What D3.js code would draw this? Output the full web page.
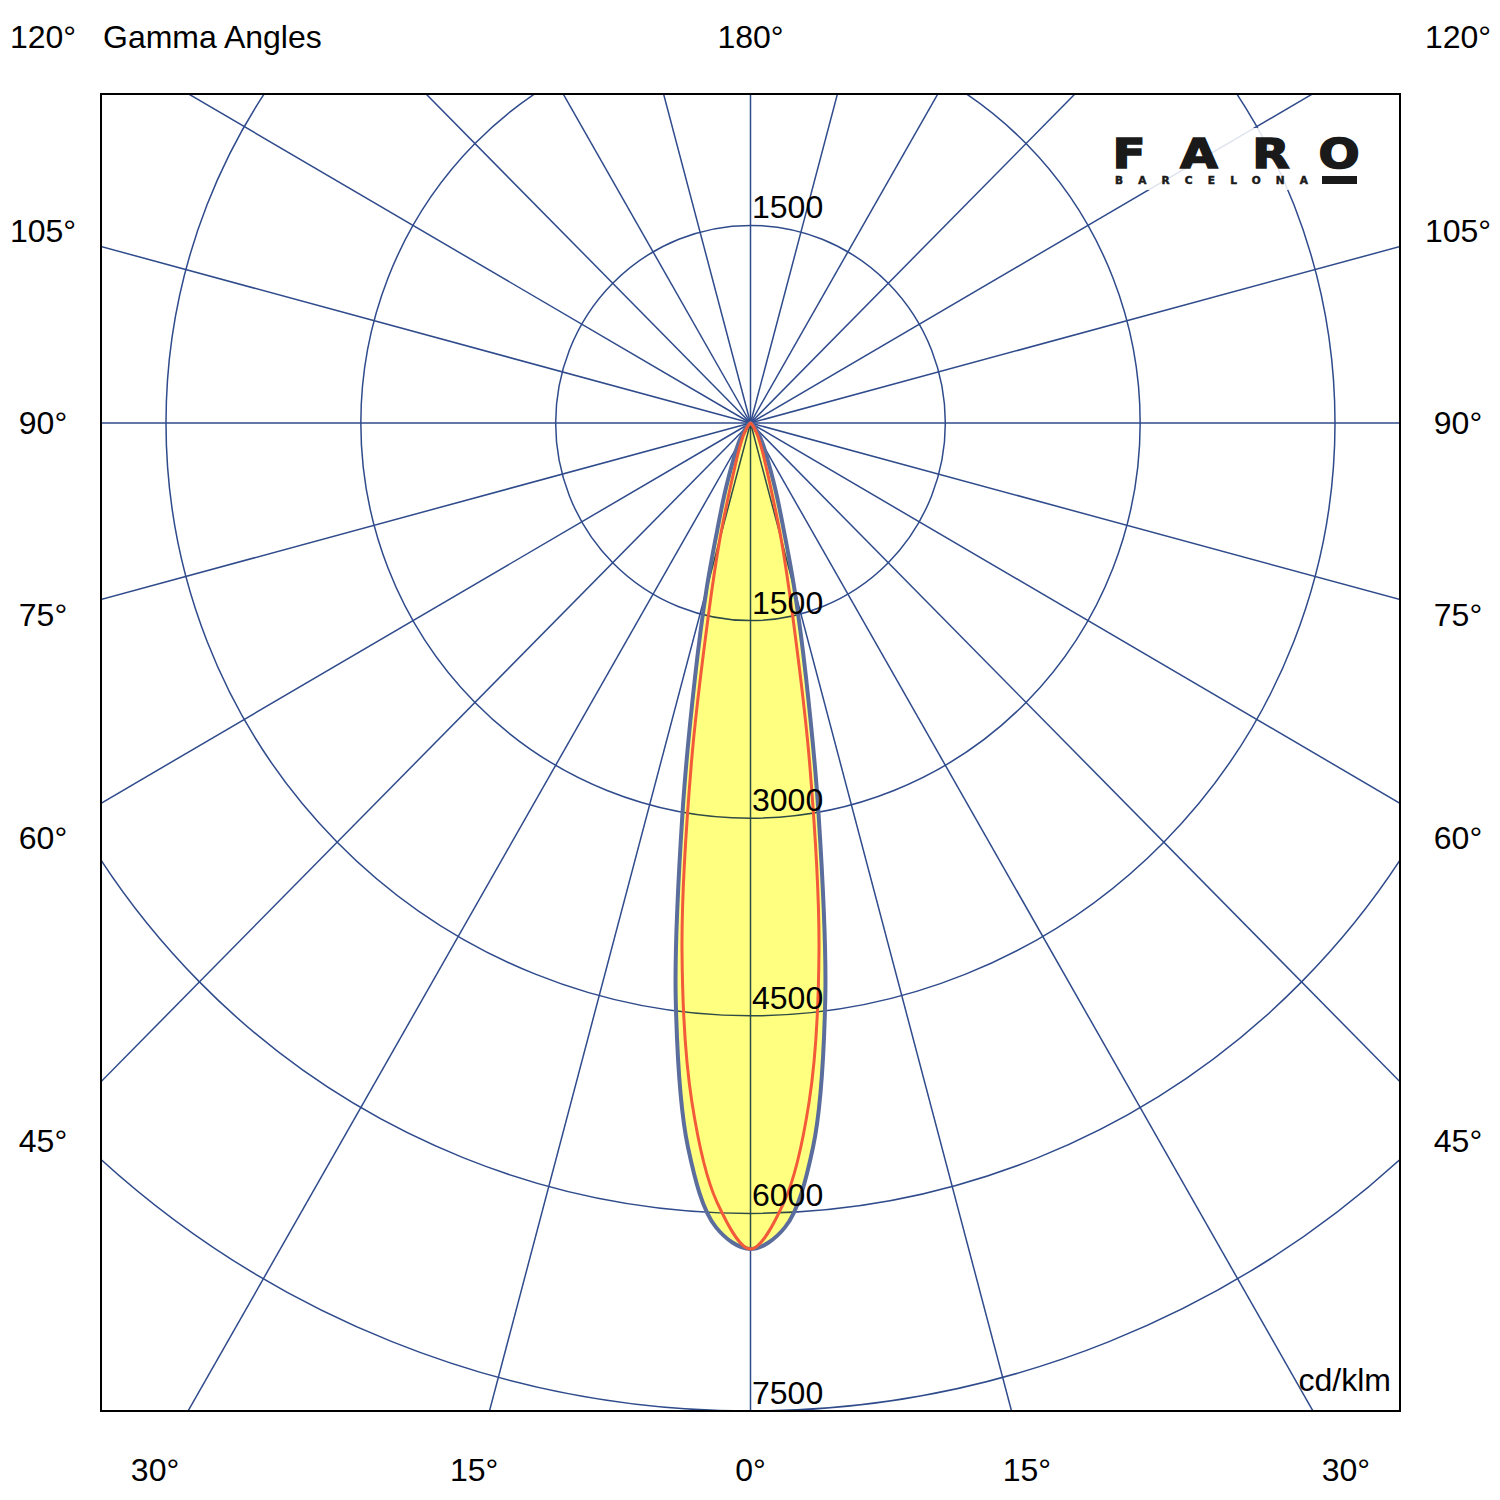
<!DOCTYPE html>
<html><head><meta charset="utf-8">
<script src="https://cdn.jsdelivr.net/npm/d3@7"></script>
<style>html,body{margin:0;padding:0;background:#fff}svg{display:block}</style>
</head><body>
<script>
// ---- data ----
const gammaDeg = [0,2.5,5,7.5,10,12.5,15,17.5,20,22.5,25,30,35,40,45,50,60,70,80,90];
const planeC0C180 = [6270,6110,5520,4410,3020,1970,1310,850,600,430,320,200,120,70,40,20,8,3,1,0];
const planeC90C270 = [6270,5920,5175,4040,2620,1500,910,525,345,250,185,110,60,30,15,8,3,1,0,0];
const ringValues = [1500,3000,4500,6000,7500];
const radialAngles = [0,15,30,45,60,75,90,105,120,135,150,165,180,195,210,225,240,255,270,285,300,315,330,345];
const sideLabelAngles = [45,60,75,90,105,120];
const bottomLabelAngles = [-30,-15,0,15,30];
const logoLetters = ["F","A","R","O"];
const logoSub = "BARCELONA";
const unitLabel = "cd/klm";
const titleLabel = "Gamma Angles";

// ---- layout ----
const W = 1500, H = 1500;
const box = {x0:101, y0:94, x1:1400, y1:1411};
const cx = 750.5, cy = 423;
const ry = d3.scaleLinear().domain([0,7500]).range([0,988]);
const squish = 0.986;
const rx = d3.scaleLinear().domain([0,7500]).range([0,988*squish]);
const gridColor = "#2f4b8c";
const font = "'Liberation Sans', Arial, sans-serif";

const svg = d3.select("body").append("svg").attr("width",W).attr("height",H);
svg.append("defs").append("clipPath").attr("id","clipbox")
  .append("rect").attr("x",box.x0).attr("y",box.y0)
  .attr("width",box.x1-box.x0).attr("height",box.y1-box.y0);

const clipG = svg.append("g").attr("clip-path","url(#clipbox)")
  .append("g").attr("transform",`translate(${cx},${cy})`);

const rad = d => d*Math.PI/180;
// gamma measured from nadir (down); side +1 right, -1 left
function pts(vals, side){
  return gammaDeg.map((gd,i)=>[side*rx(vals[i])*Math.sin(rad(gd)), ry(vals[i])*Math.cos(rad(gd))]);
}
function loop(vals){
  return pts(vals,-1).reverse().concat(pts(vals,1).slice(1));
}
const curveLine = d3.line().curve(d3.curveCatmullRom.alpha(0.5));

// fill of C0-C180
clipG.append("path").attr("d",curveLine(loop(planeC0C180))+"Z")
  .attr("fill","#ffff80").attr("stroke","none");

// grid (multiply blend so it darkens over yellow)
const grid = clipG.append("g").style("mix-blend-mode","multiply");
grid.selectAll("ellipse").data(ringValues).join("ellipse")
  .attr("rx",d=>rx(d)).attr("ry",d=>ry(d)).attr("fill","none")
  .attr("stroke",gridColor).attr("stroke-width",1.5);
const maxV = 15000;
grid.selectAll("line").data(radialAngles).join("line")
  .attr("x1",0).attr("y1",0)
  .attr("x2",d=>rx(maxV)*Math.sin(rad(d))).attr("y2",d=>ry(maxV)*Math.cos(rad(d)))
  .attr("stroke",gridColor).attr("stroke-width",1.5);

// curves
clipG.append("path").attr("d",curveLine(loop(planeC0C180))+"Z")
  .attr("fill","none").attr("stroke","#5b6d9c").attr("stroke-width",4).attr("stroke-linejoin","round");
clipG.append("path").attr("d",curveLine(loop(planeC90C270))+"Z")
  .attr("fill","none").attr("stroke","#f25a3a").attr("stroke-width",3).attr("stroke-linejoin","round");

// frame
svg.append("rect").attr("x",box.x0).attr("y",box.y0)
  .attr("width",box.x1-box.x0).attr("height",box.y1-box.y0)
  .attr("fill","none").attr("stroke","#000").attr("stroke-width",2);

// ring labels (on top)
const tf = s => s.attr("font-family",font).attr("font-size",32).attr("fill","#000");
const g = svg.append("g").attr("transform",`translate(${cx},${cy})`);
g.selectAll("text.ringlab").data(ringValues).join("text").attr("class","ringlab")
  .attr("x",1.5).attr("y",d=>ry(d)-7).text(d=>d).call(tf);
g.append("text").attr("x",1.5).attr("y",-ry(ringValues[0])-7).text(ringValues[0]).call(tf);

// side labels
const sideDx = 718;
function sideY(a){ return Math.max(37, cy + sideDx/Math.tan(rad(a))); }
svg.selectAll("text.sideL").data(sideLabelAngles).join("text").attr("class","sideL")
  .attr("x",43).attr("y",d=>sideY(d)).attr("text-anchor","middle").attr("dominant-baseline","central")
  .text(d=>d+"°").call(tf);
svg.selectAll("text.sideR").data(sideLabelAngles).join("text").attr("class","sideR")
  .attr("x",1458).attr("y",d=>sideY(d)).attr("text-anchor","middle").attr("dominant-baseline","central")
  .text(d=>d+"°").call(tf);
// bottom labels
const botDy = 1046;
svg.selectAll("text.bot").data(bottomLabelAngles).join("text").attr("class","bot")
  .attr("x",d=>cx + squish*botDy*Math.tan(rad(d))).attr("y",1470)
  .attr("text-anchor","middle").attr("dominant-baseline","central")
  .text(d=>Math.abs(d)+"°").call(tf);
// top
svg.append("text").attr("x",cx).attr("y",37).attr("text-anchor","middle")
  .attr("dominant-baseline","central").text("180°").call(tf);
svg.append("text").attr("x",103).attr("y",37).attr("dominant-baseline","central")
  .text(titleLabel).call(tf);
svg.append("text").attr("x",1391).attr("y",1380).attr("text-anchor","end")
  .attr("dominant-baseline","central").text(unitLabel).call(tf);

// logo
const logo = svg.append("g");
logo.append("rect").attr("x",1108).attr("y",128).attr("width",256).attr("height",62)
  .attr("fill","#fff").attr("opacity",0.85);
const letterX = [1129,1199,1271,1339];
logo.selectAll("text.big").data(logoLetters).join("text").attr("class","big")
  .attr("transform",(d,i)=>`translate(${letterX[i]},168) scale(1.18,1)`)
  .attr("text-anchor","middle").text(d=>d)
  .attr("font-family","'DejaVu Sans', sans-serif").attr("font-weight","bold").attr("font-size",41)
  .attr("fill","#1a1a1a").attr("stroke","#1a1a1a").attr("stroke-width",1.6);
logo.append("text").attr("x",1115).attr("y",184).text(logoSub)
  .attr("font-family","'DejaVu Sans', sans-serif").attr("font-weight","bold").attr("font-size",10.5)
  .attr("textLength",193).attr("lengthAdjust","spacing").attr("fill","#1a1a1a")
  .attr("stroke","#1a1a1a").attr("stroke-width",0.5);
logo.append("rect").attr("x",1322).attr("y",176).attr("width",35).attr("height",8).attr("fill","#1a1a1a");
</script>
</body></html>
